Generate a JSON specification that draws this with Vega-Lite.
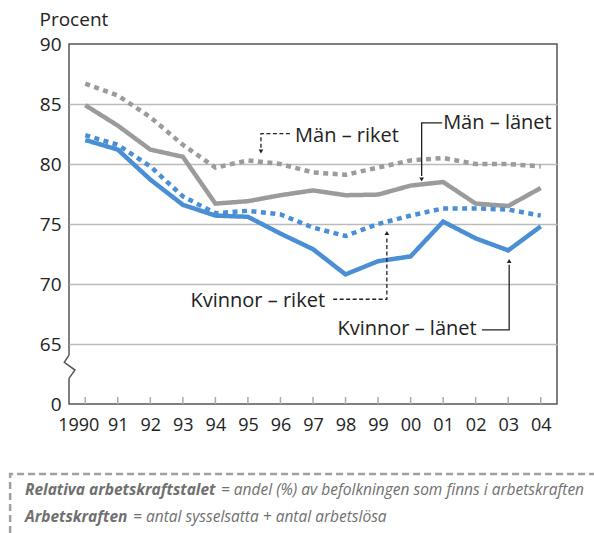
{
  "$schema": "https://vega.github.io/schema/vega-lite/v6.json",
  "width": 488,
  "height": 360,
  "autosize": {"type": "none"},
  "padding": {"left": 69, "top": 44, "right": 37, "bottom": 129},
  "background": "white",
  "config": {
    "view": {"stroke": "#555555", "strokeWidth": 1.5},
    "font": "Open Sans",
    "text": {"font": "Open Sans"},
    "axis": {"labelOverlap": false}
  },
  "datasets": {
    "series": [
      {"year": 1990, "s": "Män – riket", "v": 86.7}, {"year": 1991, "s": "Män – riket", "v": 85.7}, {"year": 1992, "s": "Män – riket", "v": 83.9}, {"year": 1993, "s": "Män – riket", "v": 81.6}, {"year": 1994, "s": "Män – riket", "v": 79.7}, {"year": 1995, "s": "Män – riket", "v": 80.3}, {"year": 1996, "s": "Män – riket", "v": 80.0}, {"year": 1997, "s": "Män – riket", "v": 79.3}, {"year": 1998, "s": "Män – riket", "v": 79.1}, {"year": 1999, "s": "Män – riket", "v": 79.7}, {"year": 2000, "s": "Män – riket", "v": 80.3}, {"year": 2001, "s": "Män – riket", "v": 80.5}, {"year": 2002, "s": "Män – riket", "v": 80.0}, {"year": 2003, "s": "Män – riket", "v": 80.0}, {"year": 2004, "s": "Män – riket", "v": 79.8},
      {"year": 1990, "s": "Män – länet", "v": 84.9}, {"year": 1991, "s": "Män – länet", "v": 83.2}, {"year": 1992, "s": "Män – länet", "v": 81.2}, {"year": 1993, "s": "Män – länet", "v": 80.6}, {"year": 1994, "s": "Män – länet", "v": 76.7}, {"year": 1995, "s": "Män – länet", "v": 76.9}, {"year": 1996, "s": "Män – länet", "v": 77.4}, {"year": 1997, "s": "Män – länet", "v": 77.8}, {"year": 1998, "s": "Män – länet", "v": 77.4}, {"year": 1999, "s": "Män – länet", "v": 77.45}, {"year": 2000, "s": "Män – länet", "v": 78.2}, {"year": 2001, "s": "Män – länet", "v": 78.5}, {"year": 2002, "s": "Män – länet", "v": 76.7}, {"year": 2003, "s": "Män – länet", "v": 76.5}, {"year": 2004, "s": "Män – länet", "v": 78.0},
      {"year": 1990, "s": "Kvinnor – riket", "v": 82.4}, {"year": 1991, "s": "Kvinnor – riket", "v": 81.6}, {"year": 1992, "s": "Kvinnor – riket", "v": 79.8}, {"year": 1993, "s": "Kvinnor – riket", "v": 77.3}, {"year": 1994, "s": "Kvinnor – riket", "v": 75.9}, {"year": 1995, "s": "Kvinnor – riket", "v": 76.1}, {"year": 1996, "s": "Kvinnor – riket", "v": 75.8}, {"year": 1997, "s": "Kvinnor – riket", "v": 74.7}, {"year": 1998, "s": "Kvinnor – riket", "v": 74.0}, {"year": 1999, "s": "Kvinnor – riket", "v": 75.0}, {"year": 2000, "s": "Kvinnor – riket", "v": 75.7}, {"year": 2001, "s": "Kvinnor – riket", "v": 76.3}, {"year": 2002, "s": "Kvinnor – riket", "v": 76.3}, {"year": 2003, "s": "Kvinnor – riket", "v": 76.2}, {"year": 2004, "s": "Kvinnor – riket", "v": 75.7},
      {"year": 1990, "s": "Kvinnor – länet", "v": 82.0}, {"year": 1991, "s": "Kvinnor – länet", "v": 81.2}, {"year": 1992, "s": "Kvinnor – länet", "v": 78.7}, {"year": 1993, "s": "Kvinnor – länet", "v": 76.6}, {"year": 1994, "s": "Kvinnor – länet", "v": 75.7}, {"year": 1995, "s": "Kvinnor – länet", "v": 75.6}, {"year": 1996, "s": "Kvinnor – länet", "v": 74.2}, {"year": 1997, "s": "Kvinnor – länet", "v": 72.9}, {"year": 1998, "s": "Kvinnor – länet", "v": 70.8}, {"year": 1999, "s": "Kvinnor – länet", "v": 71.9}, {"year": 2000, "s": "Kvinnor – länet", "v": 72.3}, {"year": 2001, "s": "Kvinnor – länet", "v": 75.2}, {"year": 2002, "s": "Kvinnor – länet", "v": 73.8}, {"year": 2003, "s": "Kvinnor – länet", "v": 72.8}, {"year": 2004, "s": "Kvinnor – länet", "v": 74.8}
    ],
    "leaders": [
      {"g": "mr", "o": 1, "x": 1996.29, "y": 82.53, "dash": "d"}, {"g": "mr", "o": 2, "x": 1995.40, "y": 82.53, "dash": "d"}, {"g": "mr", "o": 3, "x": 1995.40, "y": 81.2, "dash": "d"},
      {"g": "ml", "o": 1, "x": 2000.97, "y": 83.42, "dash": "s"}, {"g": "ml", "o": 2, "x": 2000.34, "y": 83.42, "dash": "s"}, {"g": "ml", "o": 3, "x": 2000.34, "y": 79.0, "dash": "s"},
      {"g": "kr", "o": 1, "x": 1997.62, "y": 68.73, "dash": "d"}, {"g": "kr", "o": 2, "x": 1999.27, "y": 68.73, "dash": "d"}, {"g": "kr", "o": 3, "x": 1999.27, "y": 74.0, "dash": "d"},
      {"g": "kl", "o": 1, "x": 2002.19, "y": 66.17, "dash": "s"}, {"g": "kl", "o": 2, "x": 2003.03, "y": 66.17, "dash": "s"}, {"g": "kl", "o": 3, "x": 2003.03, "y": 71.6, "dash": "s"}
    ],
    "arrows": [
      {"x": 1995.40, "y": 81.04, "shape": "triangle-down"},
      {"x": 2000.34, "y": 78.71, "shape": "triangle-down"},
      {"x": 1999.27, "y": 74.25, "shape": "triangle-up"},
      {"x": 2003.03, "y": 71.92, "shape": "triangle-up"}
    ],
    "labels": [
      {"x": 1996.45, "y": 81.86, "t": "Män – riket", "a": "left"},
      {"x": 2001.0, "y": 82.89, "t": "Män – länet", "a": "left"},
      {"x": 1997.37, "y": 68.11, "t": "Kvinnor – riket", "a": "right"},
      {"x": 2002.03, "y": 65.75, "t": "Kvinnor – länet", "a": "right"}
    ],
    "breakmark": [
      {"o": 1, "x": 1989.5, "y": 64.08}, {"o": 2, "x": 1989.356, "y": 63.48}, {"o": 3, "x": 1989.684, "y": 62.83}, {"o": 4, "x": 1989.5, "y": 62.14}
    ],
    "notebox": [
      {"o": 1, "x": 1987.69, "y": 49.25}, {"o": 2, "x": 1987.69, "y": 54.17}, {"o": 3, "x": 2005.64, "y": 54.17}
    ],
    "notes": [
      {"x": 1988.147, "y": 52.42, "t": "Relativa arbetskraftstalet", "w": "bold"},
      {"x": 1994.17, "y": 52.42, "t": "= andel (%) av befolkningen som finns i arbetskraften", "w": "normal"},
      {"x": 1988.147, "y": 50.19, "t": "Arbetskraften", "w": "bold"},
      {"x": 1991.47, "y": 50.19, "t": "= antal sysselsatta + antal arbetslösa", "w": "normal"}
    ]
  },
  "layer": [
    {
      "data": {"name": "series"},
      "mark": {"type": "line", "strokeWidth": 4.5, "strokeCap": "butt", "strokeJoin": "miter"},
      "encoding": {
        "x": {
          "field": "year", "type": "quantitative",
          "scale": {"domain": [1989.5, 2004.5], "nice": false, "zero": false},
          "axis": {
            "values": [1990, 1991, 1992, 1993, 1994, 1995, 1996, 1997, 1998, 1999, 2000, 2001, 2002, 2003, 2004],
            "tickCount": 15,
            "labelExpr": "datum.value == 1990 ? '1990' : substring(toString(datum.value), 2, 4)",
            "title": null, "domain": false, "ticks": false, "grid": false,
            "labelFont": "Open Sans", "labelFontSize": 18, "labelColor": "#222222",
            "labelBaseline": "alphabetic", "labelPadding": 26, "labelFlush": false,
            "labelOffset": {"condition": {"test": "datum.value == 1990", "value": -7}, "value": 0},
            "labelOverlap": false, "labelSeparation": 0, "labelBound": false
          }
        },
        "y": {
          "field": "v", "type": "quantitative",
          "scale": {"domain": [60, 90], "nice": false, "zero": false},
          "axis": {
            "values": [60, 65, 70, 75, 80, 85, 90],
            "labelExpr": "datum.value == 60 ? '0' : toString(datum.value)",
            "title": "Procent", "titleAngle": 0, "titleAlign": "left", "titleBaseline": "alphabetic",
            "titleX": -30, "titleY": -19, "titleFont": "Open Sans", "titleFontSize": 19,
            "titleFontWeight": "normal", "titleColor": "#222222",
            "domain": false, "ticks": false, "grid": true,
            "gridColor": {"condition": {"test": "datum.value == 60 || datum.value == 90", "value": "transparent"}, "value": "#bbbbbb"},
            "gridWidth": 1.5,
            "labelFont": "Open Sans", "labelFontSize": 19, "labelColor": "#222222",
            "labelBaseline": "middle", "labelPadding": 8, "labelOverlap": false
          }
        },
        "color": {
          "field": "s", "type": "nominal", "legend": null,
          "scale": {"domain": ["Män – länet", "Kvinnor – länet", "Män – riket", "Kvinnor – riket"], "range": ["#9b9b9b", "#4a8fd4", "#9b9b9b", "#4a8fd4"]}
        },
        "strokeDash": {
          "field": "s", "type": "nominal", "legend": null,
          "scale": {"domain": ["Män – länet", "Kvinnor – länet", "Män – riket", "Kvinnor – riket"], "range": [[1, 0], [1, 0], [5, 4.5], [5, 4.5]]}
        },
        "order": {"field": "year", "type": "quantitative"}
      }
    },
    {
      "data": {"name": "series"},
      "transform": [{"filter": "datum.s == 'Män – riket'"}],
      "mark": {"type": "rule", "stroke": "#aaaaaa", "strokeWidth": 1.5},
      "encoding": {
        "x": {"field": "year", "type": "quantitative"},
        "y": {"datum": 60, "type": "quantitative"},
        "y2": {"datum": 60.58}
      }
    },
    {
      "data": {"name": "leaders"},
      "transform": [{"filter": "datum.dash == 'd'"}],
      "mark": {"type": "line", "stroke": "#222222", "strokeWidth": 1.3, "strokeDash": [4, 2.5]},
      "encoding": {
        "x": {"field": "x", "type": "quantitative"},
        "y": {"field": "y", "type": "quantitative"},
        "detail": {"field": "g"},
        "order": {"field": "o", "type": "quantitative"}
      }
    },
    {
      "data": {"name": "leaders"},
      "transform": [{"filter": "datum.dash == 's'"}],
      "mark": {"type": "line", "stroke": "#222222", "strokeWidth": 1.3},
      "encoding": {
        "x": {"field": "x", "type": "quantitative"},
        "y": {"field": "y", "type": "quantitative"},
        "detail": {"field": "g"},
        "order": {"field": "o", "type": "quantitative"}
      }
    },
    {
      "data": {"name": "arrows"},
      "mark": {"type": "point", "filled": true, "fill": "#222222", "size": 22, "opacity": 1},
      "encoding": {
        "x": {"field": "x", "type": "quantitative"},
        "y": {"field": "y", "type": "quantitative"},
        "shape": {"field": "shape", "type": "nominal", "scale": null, "legend": null}
      }
    },
    {
      "data": {"name": "labels"},
      "transform": [{"filter": "datum.a == 'left'"}],
      "mark": {"type": "text", "font": "Open Sans", "fontSize": 20, "color": "#222222", "baseline": "alphabetic", "align": "left"},
      "encoding": {
        "x": {"field": "x", "type": "quantitative"},
        "y": {"field": "y", "type": "quantitative"},
        "text": {"field": "t"}
      }
    },
    {
      "data": {"name": "labels"},
      "transform": [{"filter": "datum.a == 'right'"}],
      "mark": {"type": "text", "font": "Open Sans", "fontSize": 20, "color": "#222222", "baseline": "alphabetic", "align": "right"},
      "encoding": {
        "x": {"field": "x", "type": "quantitative"},
        "y": {"field": "y", "type": "quantitative"},
        "text": {"field": "t"}
      }
    },
    {
      "data": {"name": "breakmark"},
      "mark": {"type": "rule", "stroke": "white", "strokeWidth": 4},
      "encoding": {
        "x": {"datum": 1989.5, "type": "quantitative"},
        "y": {"datum": 64.06, "type": "quantitative"},
        "y2": {"datum": 62.16}
      }
    },
    {
      "data": {"name": "breakmark"},
      "mark": {"type": "line", "stroke": "#555555", "strokeWidth": 1.5, "strokeJoin": "miter"},
      "encoding": {
        "x": {"field": "x", "type": "quantitative"},
        "y": {"field": "y", "type": "quantitative"},
        "order": {"field": "o", "type": "quantitative"}
      }
    },
    {
      "data": {"name": "notebox"},
      "mark": {"type": "line", "stroke": "#a0a0a0", "strokeWidth": 2.5, "strokeDash": [7, 4]},
      "encoding": {
        "x": {"field": "x", "type": "quantitative"},
        "y": {"field": "y", "type": "quantitative"},
        "order": {"field": "o", "type": "quantitative"}
      }
    },
    {
      "data": {"name": "notes"},
      "transform": [{"filter": "datum.w == 'bold'"}],
      "mark": {"type": "text", "font": "Open Sans", "fontSize": 15.5, "fontStyle": "italic", "fontWeight": "bold", "color": "#707070", "align": "left", "baseline": "alphabetic"},
      "encoding": {
        "x": {"field": "x", "type": "quantitative"},
        "y": {"field": "y", "type": "quantitative"},
        "text": {"field": "t"}
      }
    },
    {
      "data": {"name": "notes"},
      "transform": [{"filter": "datum.w == 'normal'"}],
      "mark": {"type": "text", "font": "Open Sans", "fontSize": 15.5, "fontStyle": "italic", "color": "#707070", "align": "left", "baseline": "alphabetic"},
      "encoding": {
        "x": {"field": "x", "type": "quantitative"},
        "y": {"field": "y", "type": "quantitative"},
        "text": {"field": "t"}
      }
    }
  ]
}
